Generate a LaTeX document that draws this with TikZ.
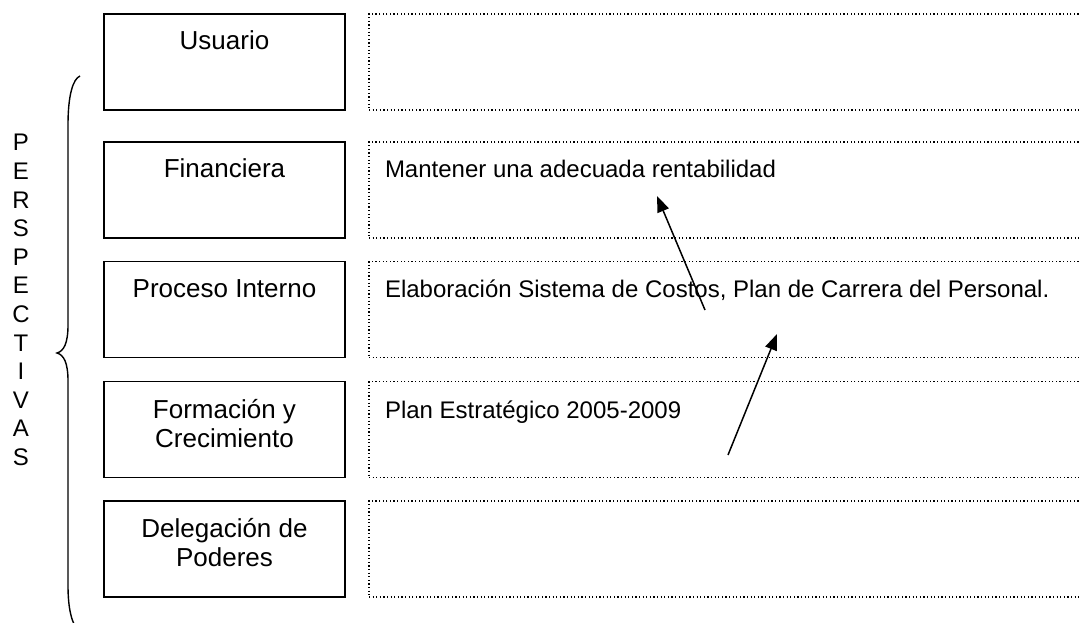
\documentclass[tikz,border=0pt]{standalone}
\usepackage{fontspec}
\setmainfont{Liberation Sans}
\usetikzlibrary{arrows.meta}
\newlength{\du}
\setlength{\du}{1pt}

\begin{document}
\begin{tikzpicture}[x=1\du,y=-1\du,
  persp/.style={draw=black,line width=1.6\du,minimum width=241\du,minimum height=96\du,inner sep=0pt},
  objbox/.style={draw=black,line width=1.2\du,dash pattern=on 1.2\du off 2.4\du,minimum width=800\du,minimum height=96\du,inner sep=0pt},
  persptext/.style={anchor=base,inner sep=0pt,outer sep=0pt,align=center,font=\fontsize{26}{29}\selectfont},
  objtext/.style={anchor=base west,inner sep=0pt,outer sep=0pt,font=\fontsize{24}{28}\selectfont},
  link/.style={line width=1.5\du,-{Triangle[length=16pt,width=12pt]}}]
\useasboundingbox (0,0) rectangle (1080,623);
\clip (0,0) rectangle (1080,623);
% perspectivas
\node[persp] (usuario) at (224.5,62) {};
\node[persp] (financiera) at (224.5,190) {};
\node[persp] (proceso) at (224.5,309.5) {};
\node[persp] (formacion) at (224.5,429.5) {};
\node[persp] (delegacion) at (224.5,549) {};
\node[persptext] (usuariotxt) at (224.5,50) {Usuario};
\node[persptext] (financieratxt) at (224.5,178) {Financiera};
\node[persptext] (procesotxt) at (224.5,298) {Proceso Interno};
\node[persptext] (formaciontxt) at (224.5,447) {Formación y\\Crecimiento};
\node[persptext] (delegaciontxt) at (224.5,566) {Delegación de\\Poderes};
% objetivos
\node[objbox] (objusuario) at (769,62) {};
\node[objbox] (objfinanciera) at (769,190) {};
\node[objbox] (objproceso) at (769,309.5) {};
\node[objbox] (objformacion) at (769,429.5) {};
\node[objbox] (objdelegacion) at (769,549) {};
\node[objtext] (rentabilidad) at (385,178) {Mantener una adecuada rentabilidad};
\node[objtext] (costos) at (385,298) {Elaboración Sistema de Costos, Plan de Carrera del Personal.};
\node[objtext] (plan) at (385,418) {Plan Estratégico 2005-2009};
% llave
\draw[line width=1.4\du] (80,76) .. controls (73,79) and (68,95) .. (68,125)
  -- (68,325) .. controls (68,343) and (64,351) .. (57,353)
  .. controls (64,355) and (68,363) .. (68,381)
  -- (68,585) .. controls (68,610) and (72,624) .. (79,632);
\node[inner sep=0pt,align=center,font=\fontsize{24}{28.6}\selectfont] (perspectivas) at (21,300)
  {P\\E\\R\\S\\P\\E\\C\\T\\I\\V\\A\\S};
% flechas
\coordinate (a1) at (705,310);
\coordinate (b1) at (657,196);
\coordinate (a2) at (728,455);
\coordinate (b2) at (777,334);
\draw[link] (a1) -- (b1);
\draw[link] (a2) -- (b2);
\end{tikzpicture}
\end{document}
